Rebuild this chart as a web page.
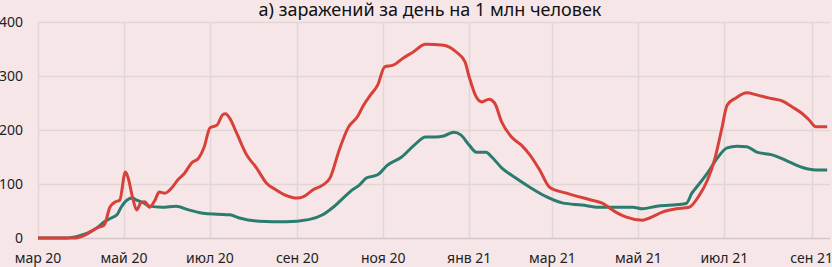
<!DOCTYPE html>
<html lang="ru">
  <head>
    <meta charset="UTF-8" />
    <title>Заражения за день</title>
    <script src="https://d3js.org/d3.v7.min.js"></script>
    <style>
      body { margin: 0; background: #f6e6e7; }
      svg { display: block; font-family: "Noto Sans", sans-serif; }
    </style>
  </head>
  <body>
    <div id="chart"></div>
    <script>
      // red series: daily new cases per 1M (readings from the picture)
      const redDates = ["2020-03-01","2020-03-27","2020-04-03","2020-04-12","2020-04-17","2020-04-21","2020-04-25","2020-04-28","2020-05-02","2020-05-04","2020-05-07","2020-05-10","2020-05-13","2020-05-16","2020-05-19","2020-05-23","2020-05-26","2020-05-30","2020-06-04","2020-06-08","2020-06-13","2020-06-18","2020-06-23","2020-06-27","2020-07-01","2020-07-06","2020-07-10","2020-07-12","2020-07-15","2020-07-20","2020-07-27","2020-08-03","2020-08-10","2020-08-17","2020-08-23","2020-09-01","2020-09-05","2020-09-12","2020-09-19","2020-09-24","2020-10-01","2020-10-07","2020-10-14","2020-10-18","2020-10-23","2020-10-28","2020-11-02","2020-11-08","2020-11-15","2020-11-22","2020-12-01","2020-12-14","2020-12-23","2020-12-29","2021-01-01","2021-01-06","2021-01-10","2021-01-15","2021-01-19","2021-01-24","2021-01-31","2021-02-07","2021-02-13","2021-02-20","2021-02-27","2021-03-11","2021-03-29","2021-04-05","2021-04-15","2021-04-22","2021-05-04","2021-05-09","2021-05-18","2021-05-28","2021-06-06","2021-06-13","2021-06-19","2021-06-24","2021-06-29","2021-07-03","2021-07-09","2021-07-17","2021-07-24","2021-08-02","2021-08-11","2021-08-18","2021-08-25","2021-08-30","2021-09-04","2021-09-12"];
      const redValues = [0,0,5,19,24,57,67,70,122,111,76,52,65,67,57,70,85,83,93,107,120,139,148,169,204,209,228,230,222,194,154,130,102,89,80,74,76,89,98,110,165,204,226,246,265,283,317,320,333,344,359,357,344,326,298,261,252,257,250,215,187,172,154,126,94,83,70,65,48,39,33,37,48,54,57,78,107,144,200,246,259,269,265,259,254,243,231,219,206,206];

      // green series
      const greenDates = ["2020-03-01","2020-03-21","2020-03-30","2020-04-05","2020-04-12","2020-04-17","2020-04-22","2020-04-26","2020-04-29","2020-05-03","2020-05-07","2020-05-10","2020-05-15","2020-05-19","2020-05-28","2020-06-07","2020-06-16","2020-06-26","2020-07-06","2020-07-15","2020-07-22","2020-08-05","2020-08-24","2020-09-09","2020-09-19","2020-09-26","2020-10-06","2020-10-10","2020-10-15","2020-10-20","2020-10-28","2020-11-04","2020-11-14","2020-11-23","2020-12-01","2020-12-08","2020-12-14","2020-12-21","2020-12-26","2021-01-01","2021-01-06","2021-01-13","2021-01-17","2021-01-24","2021-02-03","2021-02-13","2021-02-25","2021-03-08","2021-03-22","2021-04-03","2021-04-27","2021-05-04","2021-05-14","2021-05-25","2021-06-04","2021-06-08","2021-06-11","2021-06-19","2021-06-26","2021-07-03","2021-07-10","2021-07-17","2021-07-24","2021-08-04","2021-08-16","2021-08-25","2021-09-04","2021-09-12"];
      const greenValues = [0,0,4,9,19,30,37,43,57,70,74,70,65,59,57,59,52,46,44,43,37,31,30,34,43,56,80,89,98,111,117,135,150,172,187,187,189,196,191,172,159,159,150,130,111,94,76,65,61,57,57,54,59,61,64,83,93,120,148,167,170,169,159,154,141,131,126,126];

      const yTicks = [0, 100, 200, 300, 400];
      const monthNames = ["янв","фев","мар","апр","май","июн","июл","авг","сен","окт","ноя","дек"];
      const title = "а) заражений за день на 1 млн человек";

      const width = 832;
      const height = 267;
      const margin = { top: 22, right: 2, bottom: 29, left: 38 };

      const parse = d3.timeParse("%Y-%m-%d");
      const red = redDates.map((d, i) => ({ date: parse(d), value: redValues[i] }));
      const green = greenDates.map((d, i) => ({ date: parse(d), value: greenValues[i] }));

      const svg = d3
        .select("#chart")
        .append("svg")
        .attr("width", width)
        .attr("height", height);

      svg.append("rect").attr("width", width).attr("height", height).attr("fill", "#f6e6e7");

      const x = d3
        .scaleTime()
        .domain([parse("2020-03-01"), parse("2021-09-14")])
        .range([margin.left, width - margin.right]);

      const y = d3
        .scaleLinear()
        .domain([0, 400])
        .range([height - margin.bottom, margin.top]);

      const xTicks = d3.timeMonth.every(2).range(parse("2020-03-01"), parse("2021-09-02"));

      // grid
      svg
        .append("g")
        .selectAll("line")
        .data(yTicks)
        .join("line")
        .attr("x1", margin.left)
        .attr("x2", width - margin.right)
        .attr("y1", (d) => Math.round(y(d)) + 0.5)
        .attr("y2", (d) => Math.round(y(d)) + 0.5)
        .attr("stroke", (d) => (d === 0 ? "#d3c8c9" : "#e2d5d6"))
        .attr("stroke-width", 1.5);

      svg
        .append("g")
        .selectAll("line")
        .data(xTicks)
        .join("line")
        .attr("x1", (d) => Math.round(x(d)) + 0.5)
        .attr("x2", (d) => Math.round(x(d)) + 0.5)
        .attr("y1", y(400))
        .attr("y2", y(0))
        .attr("stroke", "#e2d5d6")
        .attr("stroke-width", 1.5);

      // y labels
      svg
        .append("g")
        .selectAll("text")
        .data(yTicks)
        .join("text")
        .attr("x", 23)
        .attr("y", (d) => y(d))
        .attr("dy", "0.35em")
        .attr("text-anchor", "end")
        .attr("font-size", 14)
        .attr("fill", "#222")
        .text((d) => d);

      // x labels
      svg
        .append("g")
        .selectAll("text")
        .data(xTicks)
        .join("text")
        .attr("x", (d) => x(d))
        .attr("y", 263)
        .attr("text-anchor", "middle")
        .attr("font-size", 14)
        .attr("fill", "#222")
        .text((d) => monthNames[d.getMonth()] + " " + String(d.getFullYear()).slice(2));

      const line = d3
        .line()
        .x((d) => x(d.date))
        .y((d) => y(d.value))
        .curve(d3.curveMonotoneX);

      svg
        .append("path")
        .datum(green)
        .attr("fill", "none")
        .attr("stroke", "#2a7d6e")
        .attr("stroke-width", 3)
        .attr("d", line);

      svg
        .append("path")
        .datum(red)
        .attr("fill", "none")
        .attr("stroke", "#d8413a")
        .attr("stroke-width", 3)
        .attr("d", line);

      svg
        .append("text")
        .attr("x", 430)
        .attr("y", 16)
        .attr("text-anchor", "middle")
        .attr("font-size", 18)
        .attr("fill", "#111")
        .text(title);
    </script>
  </body>
</html>
